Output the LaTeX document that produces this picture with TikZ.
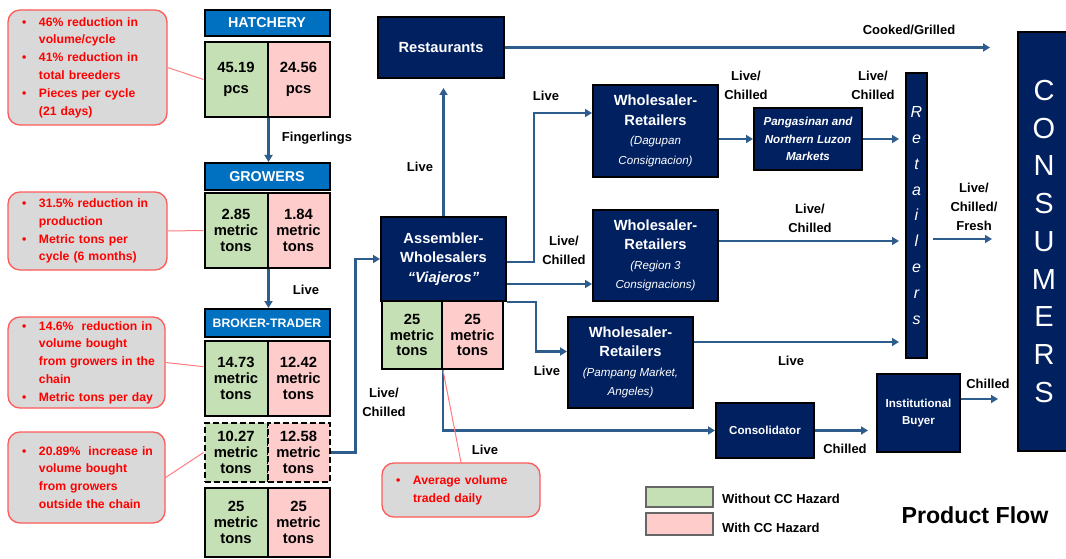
\documentclass[tikz,border=0pt]{standalone}
\usepackage{fontspec}
\setmainfont{Liberation Sans}
\usetikzlibrary{arrows.meta}
\definecolor{navy}{RGB}{0,32,96}
\definecolor{hdrblue}{RGB}{0,112,192}
\definecolor{flow}{RGB}{46,92,140}
\definecolor{cgreen}{RGB}{197,224,180}
\definecolor{cpink}{RGB}{255,204,204}
\definecolor{cgray}{RGB}{217,217,217}
\definecolor{cred}{RGB}{255,0,0}
\definecolor{credline}{RGB}{255,90,90}
\definecolor{clink}{RGB}{255,124,128}
\newcommand\setfs[2]{\fontsize{#1}{#2}\selectfont}
\newcommand\cbul{\hspace*{6pt}\makebox[17pt][l]{\textbullet}}
\newcommand\cind{\hspace*{23pt}}
\newcommand\subt[1]{{\setfs{11.6}{19}\mdseries\itshape #1}}
\begin{document}
\begin{tikzpicture}[x=1pt,y=-1pt,
 navybox/.style={draw=black, line width=2pt, fill=navy, text=white, font=\bfseries\setfs{14.7}{19.5}, align=center, inner sep=0pt},
 hdr/.style={draw=black, line width=2pt, fill=hdrblue, text=white, font=\bfseries\setfs{14.3}{16}, minimum width=125pt, inner sep=0pt},
 cellbase/.style={draw=black, line width=2pt, font=\bfseries\setfs{14.8}{15.8}, align=center, inner sep=0pt},
 gcell/.style={cellbase, fill=cgreen, minimum width=63pt},
 pcell/.style={cellbase, fill=cpink, minimum width=62pt},
 dashcell/.style={dash pattern=on 6pt off 3pt},
 arr/.style={draw=flow, line width=2.3pt, -{Triangle[length=7pt,width=8pt]}},
 lbl/.style={font=\bfseries\setfs{13}{19}, align=center, inner sep=0pt},
 callout/.style={draw=credline, line width=1.3pt, fill=cgray, rounded corners=12pt, text=cred, font=\bfseries\setfs{12.2}{17.8}, align=left, inner xsep=8pt, inner ysep=0pt},
 link/.style={draw=clink, line width=1pt},
 legbox/.style={draw=black!60, line width=1.3pt, minimum width=67pt, inner sep=0pt}
]
\path[use as bounding box] (0,0) rectangle (1066,559);

% ---- left column ----
\node[hdr, minimum height=26pt] (hatH) at (267,23) {HATCHERY};
\node[gcell, minimum height=75pt] (hatG) at (236,79.5) {45.19\\[5pt]pcs};
\node[pcell, minimum height=75pt] (hatP) at (298.5,79.5) {24.56\\[5pt]pcs};

\node[hdr, minimum height=27pt] (groH) at (267,176.5) {GROWERS};
\node[gcell, minimum height=75pt] (groG) at (236,230.5) {2.85\\metric\\tons};
\node[pcell, minimum height=75pt] (groP) at (298.5,230.5) {1.84\\metric\\tons};

\node[hdr, minimum height=28pt, font=\bfseries\setfs{12.3}{14}] (brkH) at (267,323) {BROKER-TRADER};
\node[gcell, minimum height=75pt] (brkG) at (236,378.5) {14.73\\metric\\tons};
\node[pcell, minimum height=75pt] (brkP) at (298.5,378.5) {12.42\\metric\\tons};
\node[gcell, dashcell, minimum height=59pt] (dshG) at (236,452.5) {10.27\\metric\\tons};
\node[pcell, dashcell, minimum height=59pt] (dshP) at (298.5,452.5) {12.58\\metric\\tons};
\node[gcell, minimum height=69pt] (b3G) at (236,522.5) {25\\metric\\tons};
\node[pcell, minimum height=69pt] (b3P) at (298.5,522.5) {25\\metric\\tons};

% ---- callouts ----
\node[callout, minimum width=159pt, text width=143pt, minimum height=115pt] (co1) at (87.5,67.5)
 {\cbul 46\% reduction in\\\cind volume/cycle\\\cbul 41\% reduction in\\\cind total breeders\\\cbul Pieces per cycle\\\cind (21 days)};
\node[callout, minimum width=159pt, text width=143pt, minimum height=78pt] (co2) at (87.5,231)
 {\cbul 31.5\% reduction in\\\cind production\\\cbul Metric tons per\\\cind cycle (6 months)};
\node[callout, minimum width=157pt, text width=141pt, minimum height=91pt] (co3) at (86.5,362.5)
 {\cbul 14.6\%\ \ reduction in\\\cind volume bought\\\cind from growers in the\\\cind chain\\\cbul Metric tons per day};
\node[callout, minimum width=157pt, text width=141pt, minimum height=91pt] (co4) at (86.5,477.5)
 {\cbul 20.89\%\ \ increase in\\\cind volume bought\\\cind from growers\\\cind outside the chain};
\node[callout, minimum width=158pt, text width=142pt, minimum height=54pt] (co5) at (461,490)
 {\cbul Average volume\\\cind traded daily};

% ---- middle / right boxes ----
\node[navybox, minimum width=126pt, minimum height=61pt] (rest) at (441,47.5) {Restaurants};
\node[navybox, minimum width=125pt, minimum height=84pt] (asm) at (443.5,259) {Assembler-\\Wholesalers\\{\itshape “Viajeros”}};
\node[gcell, minimum width=60pt, minimum height=68pt] (asmG) at (412,335) {25\\metric\\tons};
\node[pcell, minimum width=61pt, minimum height=68pt] (asmP) at (472.5,335) {25\\metric\\tons};

\node[navybox, minimum width=125pt, minimum height=92pt] (dag) at (655.5,131) {Wholesaler-\\Retailers\\\subt{(Dagupan}\\\subt{Consignacion)}};
\node[navybox, minimum width=125pt, minimum height=91pt] (reg3) at (655.5,255.5) {Wholesaler-\\Retailers\\\subt{(Region 3}\\\subt{Consignacions)}};
\node[navybox, minimum width=125pt, minimum height=91pt] (pamp) at (630.5,362.5) {Wholesaler-\\Retailers\\\subt{(Pampang Market,}\\\subt{Angeles)}};
\node[navybox, minimum width=108pt, minimum height=62pt, font=\bfseries\itshape\setfs{11.6}{17.5}] (pang) at (808,139) {Pangasinan and\\Northern Luzon\\Markets};
\node[navybox, minimum width=98pt, minimum height=55pt, font=\bfseries\setfs{11.6}{17}] (cons) at (765,430.5) {Consolidator};
\node[navybox, minimum width=83pt, minimum height=78pt, font=\bfseries\setfs{11.6}{17}] (inst) at (918.5,413) {Institutional\\Buyer};
\node[navybox, minimum width=21pt, minimum height=285pt, font=\mdseries\itshape\setfs{16}{25.9}] (ret) at (916.5,215.5) {R\\e\\t\\a\\i\\l\\e\\r\\s};
\node[navybox, minimum width=52pt, minimum height=419pt, font=\mdseries\setfs{29}{37.75}] (consm) at (1044,241.5) {C\\O\\N\\S\\U\\M\\E\\R\\S};
\coordinate (cookEnd) at (990,47.5);

% ---- connectors ----
\draw[arr] (hatG.south east) -- (hatG.south east |- groH.north);
\draw[arr] (groG.south east) -- (groG.south east |- brkH.north);
\draw[arr] (dshP.east) -- ++(25,0) |- (asm.west);
\draw[arr, shorten >=9pt] (asm.north) -- (asm.north |- rest.south);
\draw[arr] (rest.east) -- (rest.east -| cookEnd);
\draw[arr] ([yshift=-3pt]asm.east) -- ++(27,0) |- ([yshift=18pt]dag.west);
\path ([yshift=-25pt]asm.east) coordinate (aR3);
\draw[arr] (aR3) -- (aR3 -| reg3.west);
\draw[arr] (asm.south east) -- ++(29,0) |- ([yshift=11pt]pamp.west);
\draw[arr] (asmG.south east) |- (cons.west);
\draw[arr] (dag.east |- pang.west) -- (pang.west);
\draw[arr, shorten >=6pt] (pang.east) -- (pang.east -| ret.west);
\path ([yshift=14.5pt]reg3.east) coordinate (r3e);
\draw[arr, shorten >=6pt] (r3e) -- (r3e -| ret.west);
\path ([yshift=20.5pt]pamp.east) coordinate (pme);
\draw[arr, shorten >=6pt] (pme) -- (pme -| ret.west);
\path ([yshift=-23.5pt]ret.east) coordinate (rte);
\draw[arr, shorten <=5pt, shorten >=25pt] (rte) -- (rte -| consm.west);
\draw[arr, shorten >=8pt] (cons.east) -- (cons.east -| inst.west);
\path ([yshift=14pt]inst.east) coordinate (ie);
\draw[arr, shorten >=19pt] (ie) -- (ie -| consm.west);

% ---- callout links ----
\draw[link] (co1.east) -- (hatG.west);
\draw[link] (co2.east) -- (groG.west);
\draw[link] (co3.east) -- (brkG.160);
\draw[link] (co4.east) -- (dshG.west);
\draw[link] (asmG.south east) -- (co5.north);

% ---- labels ----
\node[lbl] (lFing) at (317,138) {Fingerlings};
\node[lbl] (lLive1) at (306,290) {Live};
\node[lbl] (lLC1) at (384,402) {Live/\\Chilled};
\node[lbl] (lLive2) at (420,167) {Live};
\node[lbl] (lLive3) at (546,96) {Live};
\node[lbl] (lLC2) at (564,250.5) {Live/\\Chilled};
\node[lbl] (lLive4) at (547,371) {Live};
\node[lbl] (lLive5) at (485,450) {Live};
\node[lbl] (lCook) at (909,30) {Cooked/Grilled};
\node[lbl] (lLC3) at (746,85.5) {Live/\\Chilled};
\node[lbl] (lLC4) at (873,85.5) {Live/\\Chilled};
\node[lbl] (lLC5) at (810,218.5) {Live/\\Chilled};
\node[lbl] (lLive6) at (791,361) {Live};
\node[lbl] (lLCF) at (974,207) {Live/\\Chilled/\\Fresh};
\node[lbl] (lCh1) at (845,449) {Chilled};
\node[lbl] (lCh2) at (988,384) {Chilled};

% ---- legend ----
\node[legbox, fill=cgreen, minimum height=20pt] (legG) at (679.5,497) {};
\node[legbox, fill=cpink, minimum height=22pt] (legP) at (679.5,524) {};
\node[lbl, anchor=west] (legGt) at (722,499) {Without CC Hazard};
\node[lbl, anchor=west] (legPt) at (722,528) {With CC Hazard};
\node[font=\bfseries\setfs{23.2}{26}, inner sep=0pt] (pf) at (975,515) {Product Flow};
\end{tikzpicture}
\end{document}
